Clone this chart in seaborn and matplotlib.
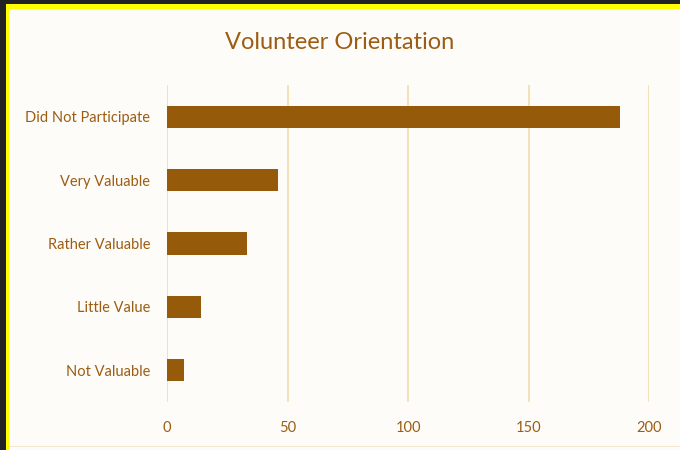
import matplotlib
matplotlib.use("Agg")
import matplotlib.pyplot as plt
from matplotlib.patches import Rectangle
import pandas as pd
import seaborn as sns

# data
categories = ["Did Not Participate", "Very Valuable", "Rather Valuable", "Little Value", "Not Valuable"]
counts = [188, 46, 33, 14, 7]
x_ticks = [0, 50, 100, 150, 200]

BAR = "#955B0A"
TEXT = "#9C5D12"
GRID = "#F0D9A6"
BG = "#FEFCF9"

sns.set_theme(style="white")
plt.rcParams["font.family"] = ["Lato", "DejaVu Sans"]

df = pd.DataFrame({"category": categories, "count": counts})

fig = plt.figure(figsize=(6.8, 4.5), dpi=100)
fig.patch.set_facecolor(BG)
ax = fig.add_axes([0.2456, 0.1067, 0.709, 0.704])
ax.set_facecolor(BG)

sns.barplot(data=df, x="count", y="category", order=categories, color=BAR,
            width=0.35, saturation=1, linewidth=0, ax=ax)

ax.set_xlim(0, 200)
ax.set_ylim(4.5, -0.5)
ax.set_xticks(x_ticks)
ax.set_xticklabels([str(t) for t in x_ticks])
ax.set_xlabel("")
ax.set_ylabel("")

# vertical gridlines like Excel
for t in x_ticks:
    ax.axvline(t, color=GRID, lw=1.1, zorder=0)
for s in ax.spines.values():
    s.set_visible(False)
ax.tick_params(axis="both", length=0, colors=TEXT, labelsize=10.5)
ax.tick_params(axis="x", pad=14)
ax.tick_params(axis="y", pad=12)

fig.text(0.5, 0.905, "Volunteer Orientation", ha="center", va="center",
         fontsize=17, color=TEXT)

# screenshot frame: dark edge then yellow strip, top and left only
W, H = 680.0, 450.0
def strip(x, y, w, h, c):
    fig.patches.append(Rectangle((x / W, 1 - (y + h) / H), w / W, h / H,
                                 transform=fig.transFigure, facecolor=c,
                                 edgecolor="none", zorder=10))

strip(0, 0, W, 4, "#222222")
strip(0, 4, W, 5, "#FFFF00")
strip(0, 0, 6, H, "#222222")
strip(6, 4, 3, H - 4, "#FFFF00")
strip(9, 446, W - 9, 1, "#F3E6CF")

fig.savefig("out.png", dpi=100, facecolor=fig.get_facecolor())
